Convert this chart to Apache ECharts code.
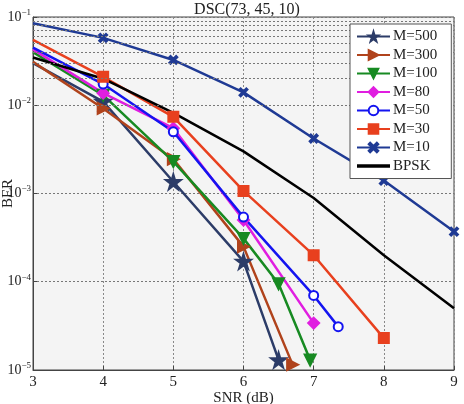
<!DOCTYPE html>
<html>
<head>
<meta charset="UTF-8">
<script type="text/javascript" src="https://cdn.jsdelivr.net/npm/echarts@6/dist/echarts.min.js"></script>
<style>
  html, body { margin: 0; padding: 0; background: #fff; }
  #chartmain { width: 464px; height: 404px; }
</style>
</head>
<body>
<div id="chartmain"></div>
<script type="text/javascript">
// data
var snrTicks = [3, 4, 5, 6, 7, 8, 9];
var names = ['M=500', 'M=300', 'M=100', 'M=80', 'M=50', 'M=30', 'M=10', 'BPSK'];

var snr500 = [3, 4, 5, 6, 6.5];
var ber500 = [0.030, 0.011, 0.00136, 0.00017, 1.3e-5];
var snr300 = [3, 4, 5, 6, 6.7];
var ber300 = [0.031, 0.0092, 0.00245, 0.00025, 1.15e-5];
var snr100 = [3, 4, 5, 6, 6.5, 6.95];
var ber100 = [0.040, 0.013, 0.0023, 0.00031, 9.5e-5, 1.3e-5];
var snr80 = [3, 4, 5, 6, 7];
var ber80 = [0.043, 0.0137, 0.0055, 0.0005, 3.4e-5];
var snr50 = [3, 4, 5, 6, 7, 7.35];
var ber50 = [0.045, 0.0174, 0.005, 0.00054, 7e-5, 3.1e-5];
var snr30 = [3, 4, 5, 6, 7, 8];
var ber30 = [0.055, 0.021, 0.0074, 0.00107, 0.0002, 2.3e-5];
var snr10 = [3, 4, 5, 6, 7, 8, 9];
var ber10 = [0.085, 0.058, 0.0326, 0.014, 0.0042, 0.0014, 0.00037];
var snrB = [3, 4, 5, 6, 7, 8, 9];
var berB = [0.0348, 0.020, 0.0082, 0.003, 0.00089, 0.0002, 5e-5];

var SERIF = '"Liberation Serif", "DejaVu Serif", serif';
var star = 'path://M50,0 L61,35 L98,35 L68,57 L79,91 L50,70 L21,91 L32,57 L2,35 L39,35 Z';
var cross = 'path://M0,15 L15,0 L50,35 L85,0 L100,15 L65,50 L100,85 L85,100 L50,65 L15,100 L0,85 L35,50 Z';
// plain line icon for BPSK in the legend
var bar = 'path://M0,0 L100,0 L100,11 L0,11 Z';

// no marker on the left edge (x=3), like the original plot
function pairs(xs, ys) {
  var out = [];
  for (var i = 0; i < xs.length; i++) {
    if (xs[i] === 3) out.push({ value: [xs[i], ys[i]], symbol: 'none' });
    else out.push([xs[i], ys[i]]);
  }
  return out;
}

// minor log grid lines (2..9 x 10^k)
var minorLines = [];
for (var k = -5; k <= -2; k++) {
  for (var m = 2; m <= 9; m++) minorLines.push({ yAxis: m * Math.pow(10, k) });
}

function mk(name, xs, ys, color, sym, size, rot) {
  return {
    name: name,
    type: 'line',
    data: pairs(xs, ys),
    color: color,
    lineStyle: { width: 2.5, color: color },
    itemStyle: { color: color, borderColor: color, borderWidth: 2 },
    symbol: sym,
    symbolSize: size,
    symbolRotate: rot || 0,
    showAllSymbol: true,
    animation: false,
    z: 3
  };
}

var series = [
  mk('M=500', snr500, ber500, '#2c3c68', star, 15),
  mk('M=300', snr300, ber300, '#b0431c', 'triangle', 11, -90),
  mk('M=100', snr100, ber100, '#178a22', 'triangle', 11, 180),
  mk('M=80', snr80, ber80, '#e01ee0', 'diamond', 11),
  mk('M=50', snr50, ber50, '#1414f0', 'emptyCircle', 9),
  mk('M=30', snr30, ber30, '#e8401e', 'rect', 10),
  mk('M=10', snr10, ber10, '#1f3a94', cross, 8),
  {
    name: 'BPSK', type: 'line', data: pairs(snrB, berB), color: '#000',
    lineStyle: { width: 2.5, color: '#000' },
    itemStyle: { color: '#000' },
    symbol: 'none', animation: false, z: 3
  },
  {
    name: 'minor', type: 'line', data: [], silent: true, animation: false, z: 1,
    markLine: {
      silent: true, symbol: 'none', animation: false, label: { show: false },
      lineStyle: { color: '#777', type: [2, 2], width: 1 },
      data: minorLines
    }
  }
];

var legendData = names.map(function (n) {
  return n === 'BPSK' ? { name: n, icon: bar } : { name: n };
});

var option = {
  backgroundColor: '#fff',
  animation: false,
  title: {
    text: 'DSC(73, 45, 10)',
    left: 242, top: -3, textAlign: 'center',
    textStyle: { fontFamily: SERIF, fontSize: 16, fontWeight: 'normal', color: '#222' }
  },
  legend: {
    data: legendData,
    orient: 'vertical',
    left: 350, top: 24,
    z: 100,
    itemWidth: 33, itemHeight: 12, itemGap: 3.5,
    padding: [5, 14, 5, 6],
    backgroundColor: '#fff',
    borderColor: '#555', borderWidth: 1, borderRadius: 0,
    textStyle: { fontFamily: SERIF, fontSize: 15, lineHeight: 15, color: '#222', padding: [0, 0, 0, -2] }
  },
  grid: {
    left: 33, right: 10, top: 17, bottom: 34,
    outerBoundsMode: 'none',
    containLabel: false,
    show: true, backgroundColor: '#f4f4f4',
    borderColor: '#444', borderWidth: 1
  },
  xAxis: {
    type: 'value', min: 3, max: 9, interval: 1,
    name: 'SNR (dB)', nameLocation: 'middle', nameGap: 21, nameMoveOverlap: false,
    nameTextStyle: { fontFamily: SERIF, fontSize: 15, color: '#222' },
    axisLine: { show: true, lineStyle: { color: '#444' } },
    axisTick: { show: true, inside: true, length: 4, lineStyle: { color: '#444' } },
    axisLabel: { fontFamily: SERIF, fontSize: 15, color: '#222', margin: 5 },
    splitLine: { show: true, lineStyle: { color: '#888', type: [2, 2] } }
  },
  yAxis: {
    type: 'log', logBase: 10, min: 1e-5, max: 0.1,
    name: 'BER', nameLocation: 'middle', nameGap: 17, nameMoveOverlap: false,
    nameTextStyle: { fontFamily: SERIF, fontSize: 15, color: '#222' },
    axisLine: { show: true, lineStyle: { color: '#444' } },
    axisTick: { show: true, inside: true, length: 4, lineStyle: { color: '#444' } },
    axisLabel: {
      margin: 2,
      formatter: function (v) {
        var e = Math.round(-Math.log10(v));
        return '{b|10}{s|\u2212' + e + '}';
      },
      rich: {
        b: { fontFamily: SERIF, fontSize: 14, color: '#222' },
        s: { fontFamily: SERIF, fontSize: 9, color: '#222', padding: [0, 0, 9, 0] }
      }
    },
    splitLine: { show: true, lineStyle: { color: '#777', type: [2, 2] } }
  },
  series: series
};

var myChart = echarts.init(document.getElementById('chartmain'), null, { renderer: 'canvas' });
myChart.setOption(option);
</script>
</body>
</html>
